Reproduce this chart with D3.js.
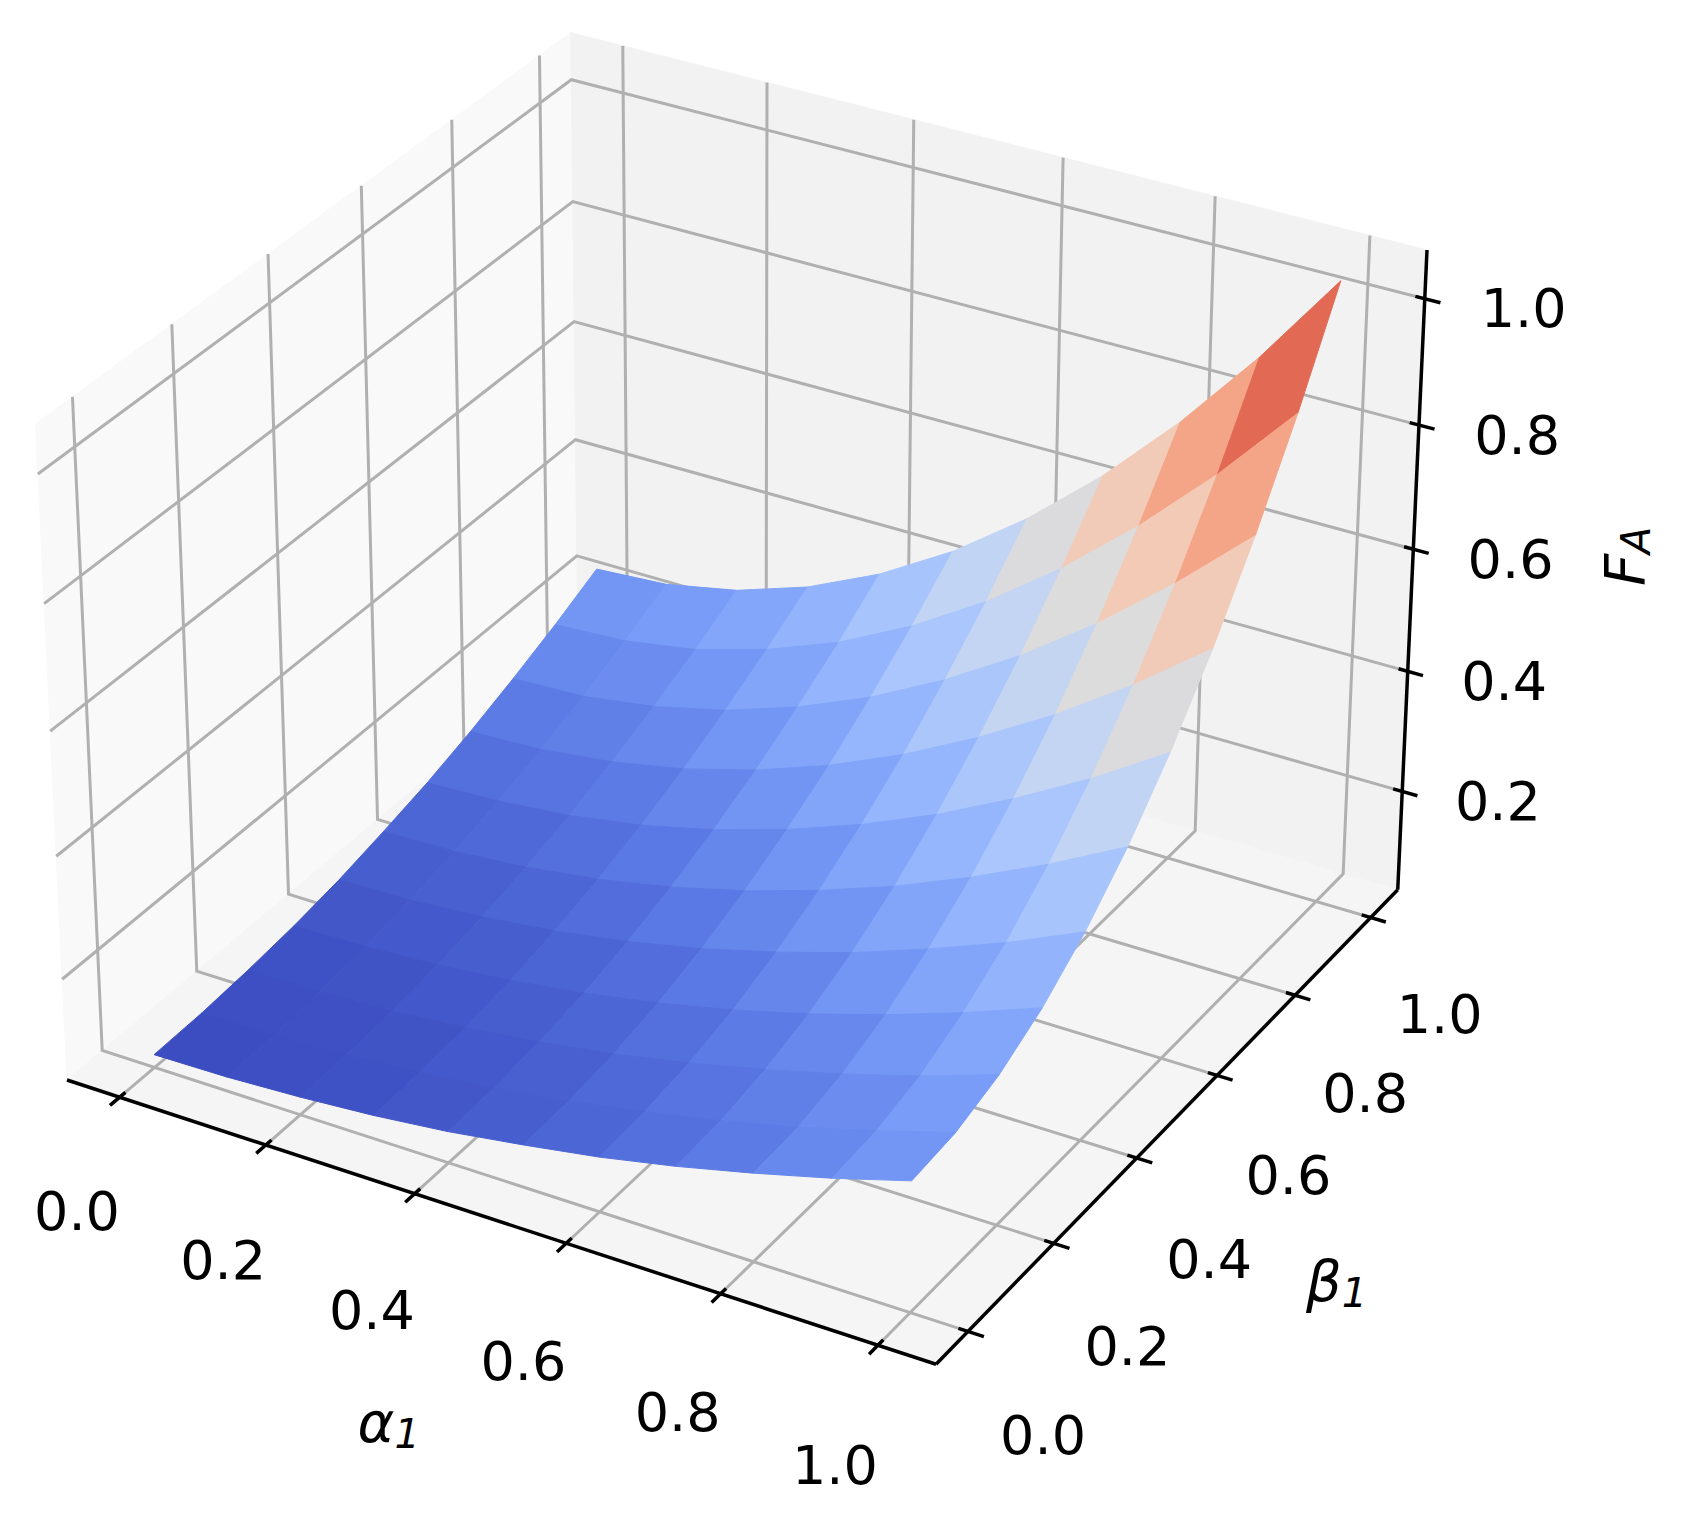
<!DOCTYPE html>
<html>
<head>
<meta charset="utf-8">
<script src="https://cdn.jsdelivr.net/npm/d3@7"></script>
<style>
  body { margin: 0; background: #fff; }
  text { font-family: "DejaVu Sans", sans-serif; }
</style>
</head>
<body>
<script>
var width = 1703, height = 1519;

// surface samples: rows = beta, columns = alpha
var alphas = [0, 0.1, 0.2, 0.3, 0.4, 0.5, 0.6, 0.7, 0.8, 0.9, 1.0];
var betas = [0, 0.1, 0.2, 0.3, 0.4, 0.5, 0.6, 0.7, 0.8, 0.9, 1.0];
var FA = [
    [.055, .057, .063, .072, .085, .103, .123, .148, .177, .209, .245],
    [.057, .059, .065, .075, .088, .106, .128, .153, .182, .216, .253],
    [.063, .065, .071, .082, .097, .116, .140, .168, .200, .236, .277],
    [.072, .075, .082, .094, .111, .133, .160, .192, .229, .271, .317],
    [.085, .088, .097, .111, .131, .157, .189, .226, .270, .318, .373],
    [.103, .106, .116, .133, .157, .188, .226, .270, .322, .380, .445],
    [.123, .128, .140, .160, .189, .226, .271, .324, .386, .455, .533],
    [.148, .153, .168, .192, .226, .270, .324, .388, .461, .544, .637],
    [.177, .182, .200, .229, .270, .322, .386, .461, .548, .647, .757],
    [.209, .216, .236, .271, .318, .380, .455, .544, .647, .763, .893],
    [.245, .253, .277, .317, .373, .445, .533, .637, .757, .893, 1.045]
];
var zLimits = [0.0545, 1.0555];
var xTicks = [0, 0.2, 0.4, 0.6, 0.8, 1.0];
var yTicks = [0, 0.2, 0.4, 0.6, 0.8, 1.0];
var zTicks = [0.2, 0.4, 0.6, 0.8, 1.0];

var coolwarmStops = ["#3b4cc0", "#5977e3", "#7b9ff9", "#9ebeff", "#c0d4f5", "#dddcdc",
    "#f2cbb7", "#f7ac8e", "#ee8468", "#d65244", "#b40426"];

var zmin = d3.min(FA, r => d3.min(r)), zmax = d3.max(FA, r => d3.max(r));
function withMargin(a, b) { var m = (b - a) * 0.05; return [a - m, b + m]; }
var xl = withMargin(0, 1), yl = withMargin(0, 1), zl = zLimits;
function pane(l) { var d = (l[1] - l[0]) / 12; return [l[0] - d / 4, l[1] + d / 4]; }
var xp = pane(xl), yp = pane(yl), zp = pane(zl);

// view: elev 30, azim -60, perspective, dist 10
var elev = 30 * Math.PI / 180, azim = -60 * Math.PI / 180, dist = 10;
var box = [4, 4, 3].map(v => v * 1.8294640721620434 / Math.sqrt(41));
var R = box.map(v => v / 2);
var dir = [Math.cos(elev) * Math.cos(azim), Math.cos(elev) * Math.sin(azim), Math.sin(elev)];
var eye = R.map((v, i) => v + dist * dir[i]);
var w = dir;
var u = [-w[1], w[0], 0]; var un = Math.hypot(u[0], u[1]); u = u.map(v => v / un);
var v = [w[1] * u[2] - w[2] * u[1], w[2] * u[0] - w[0] * u[2], w[0] * u[1] - w[1] * u[0]];

function raw(x, y, z) {
    var p = [(x - xl[0]) / (xl[1] - xl[0]) * box[0] - eye[0],
             (y - yl[0]) / (yl[1] - yl[0]) * box[1] - eye[1],
             (z - zl[0]) / (zl[1] - zl[0]) * box[2] - eye[2]];
    var xv = u[0] * p[0] + u[1] * p[1] + u[2] * p[2];
    var yv = v[0] * p[0] + v[1] * p[1] + v[2] * p[2];
    var zv = w[0] * p[0] + w[1] * p[1] + w[2] * p[2];
    return [xv / -zv, yv / -zv, zv];
}

// fit screen scales to two box corners
var c0 = raw(xp[0], yp[0], zp[0]), c1 = raw(xp[1], yp[1], zp[1]);
var sx = d3.scaleLinear().domain([c0[0], c1[0]]).range([67, 1427]);
var sy = d3.scaleLinear().domain([c0[1], c1[1]]).range([1080, 250]);
function P(x, y, z) { var r = raw(x, y, z); return [sx(r[0]), sy(r[1]), r[2]]; }

var color = d3.scaleLinear()
    .domain(d3.range(11).map(i => zmin + (zmax - zmin) * i / 10))
    .range(coolwarmStops).interpolate(d3.interpolateRgb);

var svg = d3.select("body").append("svg").attr("width", width).attr("height", height);
var line = d3.line();

function poly(pts) { return "M" + pts.map(p => P(p[0], p[1], p[2]).slice(0, 2).join(",")).join("L") + "Z"; }

// panes
svg.append("path").attr("d", poly([[xp[0], yp[0], zp[0]], [xp[0], yp[1], zp[0]], [xp[0], yp[1], zp[1]], [xp[0], yp[0], zp[1]]]))
    .attr("fill", "#f9f9f9").attr("stroke", "#f9f9f9");
svg.append("path").attr("d", poly([[xp[0], yp[1], zp[0]], [xp[1], yp[1], zp[0]], [xp[1], yp[1], zp[1]], [xp[0], yp[1], zp[1]]]))
    .attr("fill", "#f2f2f2").attr("stroke", "#f2f2f2");
svg.append("path").attr("d", poly([[xp[0], yp[0], zp[0]], [xp[1], yp[0], zp[0]], [xp[1], yp[1], zp[0]], [xp[0], yp[1], zp[0]]]))
    .attr("fill", "#f5f5f5").attr("stroke", "#f5f5f5");

// grid
var grid = [];
xTicks.forEach(t => grid.push([[t, yp[0], zp[0]], [t, yp[1], zp[0]], [t, yp[1], zp[1]]]));
yTicks.forEach(t => grid.push([[xp[1], t, zp[0]], [xp[0], t, zp[0]], [xp[0], t, zp[1]]]));
zTicks.forEach(t => grid.push([[xp[0], yp[0], t], [xp[0], yp[1], t], [xp[1], yp[1], t]]));
svg.append("g").selectAll("path").data(grid).enter().append("path")
    .attr("d", d => line(d.map(p => P(p[0], p[1], p[2]).slice(0, 2))))
    .attr("fill", "none").attr("stroke", "#b0b0b0").attr("stroke-width", 3);

// axis lines and ticks
var axes = [
    [[xp[0], yp[0], zp[0]], [xp[1], yp[0], zp[0]]],
    [[xp[1], yp[0], zp[0]], [xp[1], yp[1], zp[0]]],
    [[xp[1], yp[1], zp[0]], [xp[1], yp[1], zp[1]]]
];
var ticks = [];
xTicks.forEach(t => ticks.push([[t, yp[0] - 0.02, zp[0]], [t, yp[0] + 0.012, zp[0]]]));
yTicks.forEach(t => ticks.push([[xp[1] + 0.02, t, zp[0]], [xp[1] - 0.012, t, zp[0]]]));
zTicks.forEach(t => ticks.push([[xp[1] + 0.02, yp[1], t], [xp[1] - 0.012, yp[1], t]]));
svg.append("g").selectAll("path").data(axes.concat(ticks)).enter().append("path")
    .attr("d", d => line(d.map(p => P(p[0], p[1], p[2]).slice(0, 2))))
    .attr("fill", "none").attr("stroke", "#000").attr("stroke-width", 3.5);

// tick labels
var fmt = d3.format(".1f");
var labels = [];
xTicks.forEach(t => labels.push({ p: P(t, yp[0] - 0.095, zp[0] - 0.125), s: fmt(t) }));
yTicks.forEach(t => labels.push({ p: P(xp[1] + 0.096, t, zp[0] - 0.129), s: fmt(t) }));
zTicks.forEach(t => labels.push({ p: P(xp[1] + 0.109, yp[1] + 0.035, t), s: fmt(t) }));
svg.append("g").selectAll("text").data(labels).enter().append("text")
    .attr("x", d => d.p[0]).attr("y", d => d.p[1])
    .attr("text-anchor", "middle").attr("dominant-baseline", "central")
    .attr("font-size", 54).text(d => d.s);

// surface quads, painter's order
var quads = [];
for (var j = 0; j < betas.length - 1; j++) {
    for (var i = 0; i < alphas.length - 1; i++) {
        var pts = [[i, j], [i + 1, j], [i + 1, j + 1], [i, j + 1]].map(c => P(alphas[c[0]], betas[c[1]], FA[c[1]][c[0]]));
        var val = (FA[j][i] + FA[j][i + 1] + FA[j + 1][i] + FA[j + 1][i + 1]) / 4;
        quads.push({ pts: pts, depth: d3.mean(pts, p => p[2]), c: color(val) });
    }
}
quads.sort((a, b) => a.depth - b.depth);
svg.append("g").selectAll("path").data(quads).enter().append("path")
    .attr("d", d => "M" + d.pts.map(p => p[0] + "," + p[1]).join("L") + "Z")
    .attr("fill", d => d.c).attr("stroke", d => d.c).attr("stroke-width", 1);

// axis labels
function axisLabel(p, main, sub, rot) {
    var t = svg.append("text").attr("font-size", 56).attr("text-anchor", "middle")
        .attr("dominant-baseline", "central")
        .attr("transform", "translate(" + p[0] + "," + p[1] + ")" + (rot ? " rotate(" + rot + ")" : ""));
    t.append("tspan").attr("font-style", "italic").text(main);
    t.append("tspan").attr("font-style", "italic").attr("font-size", 40).attr("dy", 12).text(sub);
}
axisLabel(P(0.5, yp[0] - 0.22, zp[0] - 0.175), "α", "1", 0);
axisLabel(P(xp[1] + 0.21, 0.5, zp[0] - 0.19), "β", "1", 0);
axisLabel(P(xp[1] + 0.194, yp[1] + 0.169, (zl[0] + zl[1]) / 2), "F", "A", -90);
</script>
</body>
</html>
